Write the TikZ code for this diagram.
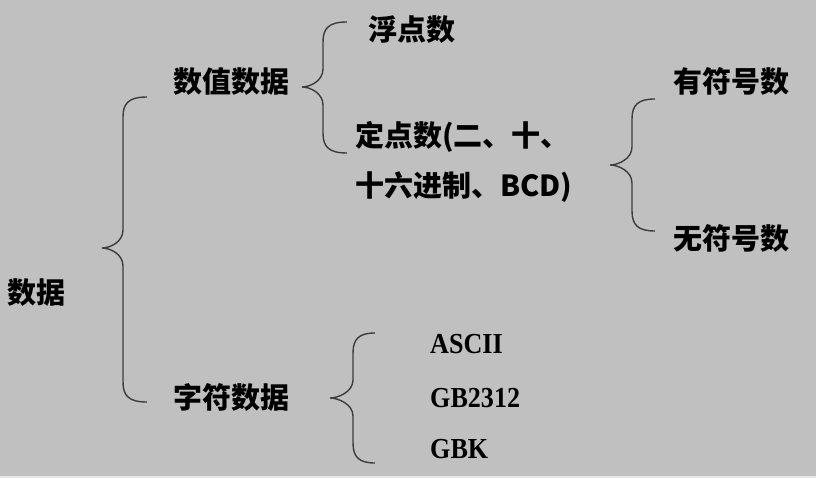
\documentclass[tikz,border=0pt]{standalone}
\usepackage{fontspec}
\newfontfamily\cjk{Noto Sans CJK SC}
\newfontfamily\latinb{Liberation Serif}[FakeStretch=0.9]
\definecolor{bg}{HTML}{C0C0C0}
\definecolor{edge}{HTML}{E6E6E6}
\definecolor{brc}{HTML}{3C3C3C}
\newcommand{\mybrace}[6]{% end x, spine x, tip x, top y, tip y, bottom y
  \draw[brc line] (#1,#4) .. controls (#2+6,#4) and (#2,#4+6) .. (#2,#4+20)
    -- (#2,#5-18) .. controls (#2,#5-6) and (#3+8,#5) .. (#3,#5)
    .. controls (#3+8,#5) and (#2,#5+6) .. (#2,#5+18)
    -- (#2,#6-20) .. controls (#2,#6-6) and (#2+6,#6) .. (#1,#6);}
\begin{document}
\begin{tikzpicture}[x=1pt,y=-1pt,
  brc line/.style={draw=brc,line width=1.4pt},
  zh/.style={anchor=base west,inner sep=0pt,font=\cjk\bfseries\fontsize{29}{31}\selectfont},
  en/.style={anchor=base west,inner sep=0pt,font=\latinb\bfseries\fontsize{29}{31}\selectfont}]
\fill[edge] (0,0) rectangle (816,478);
\fill[bg] (0,0) rectangle (816,476);
\useasboundingbox (0,0) rectangle (816,478);
% texts
\node[zh] (data) at (7,303) {数据};
\node[zh] (num) at (173,93) {数值数据};
\node[zh] (chr) at (173,408) {字符数据};
\node[zh] (float) at (368,41) {浮点数};
\node[zh] (fixa) at (355,147) {定点数(二、十、};
\node[zh] (fixb) at (355,197) {十六进制、BCD)};
\node[zh] (sgn) at (673,93) {有符号数};
\node[zh] (usgn) at (673,250) {无符号数};
\node[en] (ascii) at (430,353) {ASCII};
\node[en] (gb) at (430,407) {GB2312};
\node[en] (gbk) at (430,458) {GBK};
% braces
\mybrace{147}{123}{102}{97}{248}{402}
\mybrace{347}{323}{302}{22}{87}{153}
\mybrace{655}{632}{610}{99}{165}{231}
\mybrace{375}{353}{330}{333}{398}{463}
\end{tikzpicture}
\end{document}
